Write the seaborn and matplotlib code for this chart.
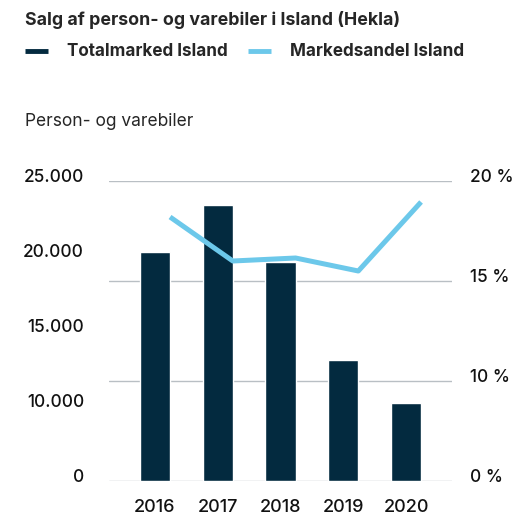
import matplotlib
matplotlib.use("Agg")
import matplotlib.pyplot as plt
from matplotlib.lines import Line2D
from matplotlib.transforms import ScaledTranslation, blended_transform_factory
import seaborn as sns
import numpy as np
import pandas as pd

# data
years = ["2016", "2017", "2018", "2019", "2020"]
totalmarked = [20300, 23400, 19600, 13100, 10200]
markedsandel = [18.2, 16.0, 16.15, 15.5, 18.95]

left_ticks = [0, 10000, 15000, 20000, 25000]
left_labels = ["0", "10.000", "15.000", "20.000", "25.000"]
right_ticks = [0, 10, 15, 20]
right_labels = ["0 %", "10 %", "15 %", "20 %"]

dark = "#032a3f"
light = "#6cc8ea"
grid_col = "#b9bfc4"

sns.set_style("white")
plt.rcParams["font.family"] = ["Inter", "DejaVu Sans"]

df = pd.DataFrame({"year": years, "total": totalmarked, "andel": markedsandel})
df["pos"] = range(len(df))


# broken axes: 0-10 on the first step, then steps of 5
def fwd_left(v):
    v = np.asarray(v, dtype=float)
    return np.where(v <= 10000, v / 10000, 1 + (v - 10000) / 5000)


def inv_left(u):
    u = np.asarray(u, dtype=float)
    return np.where(u <= 1, u * 10000, 10000 + (u - 1) * 5000)


def fwd_right(v):
    v = np.asarray(v, dtype=float)
    return np.where(v <= 10, v / 10, 1 + (v - 10) / 5)


def inv_right(u):
    u = np.asarray(u, dtype=float)
    return np.where(u <= 1, u * 10, 10 + (u - 1) * 5)


fig = plt.figure(figsize=(5.13, 5.16), dpi=100)
ax = fig.add_axes([109 / 513, 35 / 516, 343 / 513, 300 / 516])
ax2 = ax.twinx()

sns.barplot(data=df, x="year", y="total", color=dark, width=0.48,
            saturation=1, ax=ax, zorder=2)
ax.set_yscale("function", functions=(fwd_left, inv_left))
ax.set_ylim(0, 25000)
ax.set_xlim(-0.733, 4.733)

# line drawn at the right edge of each bar
df["xline"] = df["pos"] + 0.24
sns.lineplot(data=df, x="xline", y="andel", color=light, linewidth=3.6,
             ax=ax2, solid_capstyle="butt")
ax2.set_yscale("function", functions=(fwd_right, inv_right))
ax2.set_ylim(0, 20)

# gridlines follow the right axis but sit behind the bars
gtrans = blended_transform_factory(ax.transAxes, ax2.transData)
for t in right_ticks:
    ax.plot([0, 1], [t, t], transform=gtrans, color=grid_col, lw=1, zorder=0.5)

ax.set_yticks(left_ticks)
ax.set_yticklabels(left_labels)
ax2.set_yticks(right_ticks)
ax2.set_yticklabels(right_labels)

for a in (ax, ax2):
    a.set_xlabel("")
    a.set_ylabel("")
    for s in a.spines.values():
        s.set_visible(False)
    a.tick_params(length=0, labelsize=12.4, colors="#111111")

ax.tick_params(axis="y", pad=18)
ax2.tick_params(axis="y", pad=13)
ax.tick_params(axis="x", pad=13, labelsize=13)
for lab in ax.get_xticklabels():
    lab.set_fontweight("medium")
for lab in ax.get_yticklabels() + ax2.get_yticklabels():
    lab.set_fontweight("medium")

up = ScaledTranslation(0, 4 / 72, fig.dpi_scale_trans)
for lab in ax.get_yticklabels() + ax2.get_yticklabels():
    lab.set_transform(lab.get_transform() + up)

fig.text(25 / 513, 1 - 20 / 516, "Salg af person- og varebiler i Island (Hekla)",
         fontsize=12.8, fontweight="bold", va="center", ha="left")
fig.text(25 / 513, 1 - 122 / 516, "Person- og varebiler",
         fontsize=12.5, va="center", ha="left")

handles = [Line2D([], [], color=dark, lw=3.5, solid_capstyle="butt"),
           Line2D([], [], color=light, lw=3.5, solid_capstyle="butt")]
fig.legend(handles, ["Totalmarked Island", "Markedsandel Island"], ncol=2,
           loc="center left", bbox_to_anchor=(25 / 513, 1 - 52 / 516),
           frameon=False, prop={"size": 12.3, "weight": "bold"},
           borderpad=0, borderaxespad=0,
           handlelength=1.35, handletextpad=1.1, columnspacing=1.2)

fig.savefig("out.png", dpi=100)
